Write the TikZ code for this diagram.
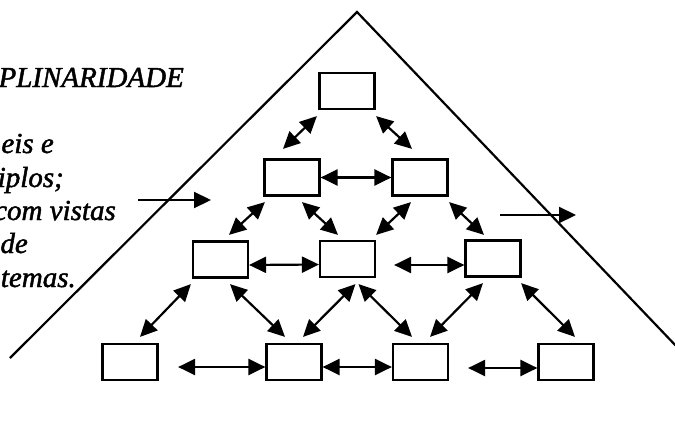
\documentclass[tikz,border=0pt]{standalone}
\usepackage{fontspec}
\setmainfont{Liberation Serif}
\newfontfamily\lblfont{Liberation Serif}[ItalicFeatures={FakeBold=1.6}]
\usetikzlibrary{arrows.meta,calc}
\tikzset{
  box/.style={draw, line width=2.2pt, minimum width=55pt, minimum height=36pt, inner sep=0pt},
  link/.style={line width=2.2pt, {Triangle[length=17pt,width=16pt]}-{Triangle[length=17pt,width=16pt]}},
  inarrow/.style={line width=2.2pt, -{Triangle[length=17pt,width=16pt]}},
  edge/.style={line width=2.2pt},
  lbl/.style={font=\lblfont\itshape\fontsize{29}{33}\selectfont, inner sep=0pt, anchor=base east}
}
\begin{document}
\begin{tikzpicture}[x=1pt,y=-1pt]
\useasboundingbox (0,0) rectangle (675,423);
% pyramid
\coordinate (apex) at (357,12);
\coordinate (pl) at (10,358);
\coordinate (pr) at (678,348);
\draw[edge, line join=miter] (pl) -- (apex) -- (pr);
% text (cropped on the left)
\node[lbl] (t0) at (184,87) {PLINARIDADE};
\node[lbl] (t1) at (54,153) {eis e};
\node[lbl] (t2) at (64,187) {iplos;};
\node[lbl] (t3) at (116,220) {com vistas};
\node[lbl] (t4) at (28,253) {de};
\node[lbl] (t5) at (76,287) {temas.};
% side arrows
\coordinate (la) at (138,200);
\coordinate (lb) at (211,200);
\coordinate (ra) at (500,215);
\coordinate (rb) at (576,215);
\draw[inarrow] (la) -- (lb);
\draw[inarrow] (ra) -- (rb);
% boxes
\node[box] (t)   at (347,91) {};
\node[box] (b21) at (292,177.5) {};
\node[box] (b22) at (420,177.5) {};
\node[box] (b31) at (220.5,259.5) {};
\node[box] (b32) at (347.5,259) {};
\node[box] (b33) at (493,258.5) {};
\node[box] (b41) at (130,362) {};
\node[box] (b42) at (294,362) {};
\node[box] (b43) at (420.5,362) {};
\node[box] (b44) at (566,362) {};
% diagonal links
\draw[link] ($(t.south west)+(-1.5,6)$) -- ($(b21.north)+(-9,-9.5)$);
\draw[link] ($(t.south east)+(0.5,6)$) -- ($(b22.north)+(-8,-9.5)$);
\draw[link] ($(b21.south west)+(1.5,5.5)$) -- ($(b31.north)+(8.5,-5.5)$);
\draw[link] ($(b21.south)+(10,5.5)$) -- ($(b32.north)+(-9.5,-5)$);
\draw[link] ($(b22.south)+(-9,5.5)$) -- ($(b32.north east)+(0,-5)$);
\draw[link] ($(b22.south east)+(0.5,5.5)$) -- ($(b33.north)+(-9,-4.5)$);
\draw[link] ($(b31.south west)+(-1,5.5)$) -- ($(b41.north)+(10,-6)$);
\draw[link] ($(b31.south)+(9.5,5.5)$) -- ($(b42.north)+(-9,-6)$);
\draw[link] ($(b32.south)+(8,6)$) -- ($(b42.north)+(9,-6)$);
\draw[link] ($(b32.south)+(11,6)$) -- ($(b43.north)+(-8.5,-6)$);
\draw[link] ($(b33.south)+(-10,5.5)$) -- ($(b43.north)+(9.5,-6)$);
\draw[link] ($(b33.south east)+(-0.5,5.5)$) -- ($(b44.north)+(9,-6)$);
% horizontal links
\draw[link] (b21.east) -- (b22.west);
\draw[link] ($(b31.east)+(0,5.5)$) -- ($(b32.west)+(0,5.5)$);
\draw[link] ($(b32.east)+(18,6)$) -- ($(b33.west)+(0,6.5)$);
\draw[link] ($(b41.east)+(19.5,5)$) -- ($(b42.west)+(0,5)$);
\draw[link] ($(b42.east)+(0,5)$) -- ($(b43.west)+(0,5)$);
\draw[link] ($(b43.east)+(19,6)$) -- ($(b44.west)+(0,6)$);
\end{tikzpicture}
\end{document}
